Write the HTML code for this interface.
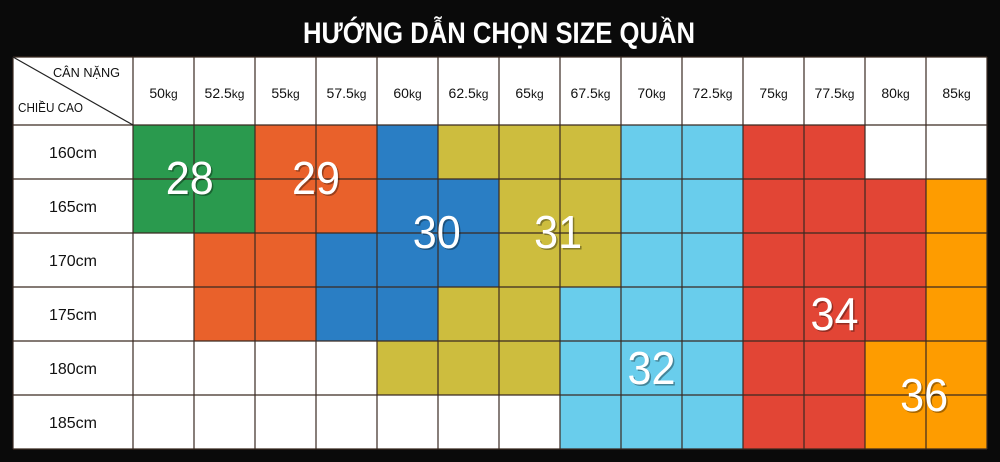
<!DOCTYPE html>
<html><head><meta charset="utf-8">
<style>
html,body{margin:0;padding:0;background:#0a0a0a;}
svg{display:block;}
text{font-family:"Liberation Sans","DejaVu Sans",sans-serif;}
</style></head>
<body>
<svg id="chart" width="1000" height="462" viewBox="0 0 1000 462">
<rect x="0" y="0" width="1000" height="462" fill="#0a0a0a"/>
<text x="499" y="43" text-anchor="middle" font-size="30" font-weight="bold" fill="#fff" textLength="392" lengthAdjust="spacingAndGlyphs">HƯỚNG DẪN CHỌN SIZE QUẦN</text>
<g id="grid"></g>
</svg>
<script>
const weights = ["50","52.5","55","57.5","60","62.5","65","67.5","70","72.5","75","77.5","80","85"];
const heights = ["160cm","165cm","170cm","175cm","180cm","185cm"];
const sizeRow160 = [28,28,29,29,30,31,31,31,32,32,34,34,0,0];
const sizeRow165 = [28,28,29,29,30,30,31,31,32,32,34,34,34,36];
const sizeRow170 = [0,29,29,30,30,30,31,31,32,32,34,34,34,36];
const sizeRow175 = [0,29,29,30,30,31,31,32,32,32,34,34,34,36];
const sizeRow180 = [0,0,0,0,31,31,31,32,32,32,34,34,36,36];
const sizeRow185 = [0,0,0,0,0,0,0,32,32,32,34,34,36,36];
const sizeLabels = ["28","29","30","31","32","34","36"];
const labelWeightPos = [0.93,3.0,4.98,6.97,8.5,11.5,12.97];
const labelHeightPos = [0.98,0.98,1.98,1.98,4.5,3.5,5.0];

const grid = [sizeRow160,sizeRow165,sizeRow170,sizeRow175,sizeRow180,sizeRow185];
const colors = {28:"#2a9a4e",29:"#e9612b",30:"#2a7ec4",31:"#cdbd3e",32:"#69cdec",34:"#e24535",36:"#fe9c00",0:"#ffffff"};

const X0=13, FC=133, CW=61, Y0=57, HR=125, RH=54;
const xCol = i => FC + i*CW;
const yRow = j => HR + j*RH;
const NS="http://www.w3.org/2000/svg";
const g=document.getElementById('grid');
function mk(tag,attrs){const e=document.createElementNS(NS,tag);for(const k in attrs)e.setAttribute(k,attrs[k]);g.appendChild(e);return e;}

const hb=mk('rect',{x:X0,y:Y0,width:xCol(weights.length)-X0,height:yRow(heights.length)-Y0,fill:'#fff'});



grid.forEach((row,j)=>row.forEach((s,i)=>{
  const r=mk('rect',{x:xCol(i),y:yRow(j),width:CW,height:RH,fill:colors[s]});
  
  
}));

for(let i=0;i<=weights.length;i++){
  const l=mk('line',{x1:xCol(i),y1:Y0,x2:xCol(i),y2:yRow(heights.length),stroke:'#3a2a22','stroke-width':1.2});
  
  
}
for(let j=0;j<=heights.length;j++){
  const l=mk('line',{x1:X0,y1:yRow(j),x2:xCol(weights.length),y2:yRow(j),stroke:'#3a2a22','stroke-width':1.2});
  
  
}
const lt=mk('line',{x1:X0,y1:Y0,x2:X0,y2:yRow(heights.length),stroke:'#3a2a22','stroke-width':1.2});


const lt2=mk('line',{x1:X0,y1:Y0,x2:xCol(weights.length),y2:Y0,stroke:'#3a2a22','stroke-width':1.2});


const dg=mk('line',{x1:X0,y1:Y0,x2:FC,y2:HR,stroke:'#222','stroke-width':1.2});



const t1=mk('text',{x:120,y:77,'text-anchor':'end','font-size':13,fill:'#111',textLength:67,lengthAdjust:'spacingAndGlyphs'});
t1.textContent='CÂN NẶNG';


const t2=mk('text',{x:18,y:112,'font-size':13,fill:'#111',textLength:65,lengthAdjust:'spacingAndGlyphs'});
t2.textContent='CHIỀU CAO';



weights.forEach((w,i)=>{
  const t=mk('text',{x:xCol(i)+CW/2,y:98,'text-anchor':'middle','font-size':14,fill:'#111'});
  t.innerHTML=w+'<tspan font-size="12">kg</tspan>';
  
  
});
heights.forEach((h,j)=>{
  const t=mk('text',{x:(X0+FC)/2,y:yRow(j)+RH/2+6,'text-anchor':'middle','font-size':16,fill:'#111'});
  t.textContent=h;
  
  
});
sizeLabels.forEach((s,k)=>{
  const cx=xCol(labelWeightPos[k]), cy=yRow(labelHeightPos[k]);
  const sh=mk('text',{x:cx+1.5,y:cy+17.5,'text-anchor':'middle','font-size':46,fill:'rgba(0,0,0,0.35)',textLength:48,lengthAdjust:'spacingAndGlyphs'});
  sh.textContent=s;
  
  
  const t=mk('text',{x:cx,y:cy+16,'text-anchor':'middle','font-size':46,fill:'#fff',textLength:48,lengthAdjust:'spacingAndGlyphs'});
  t.textContent=s;
  
  
});
</script>
</body></html>
